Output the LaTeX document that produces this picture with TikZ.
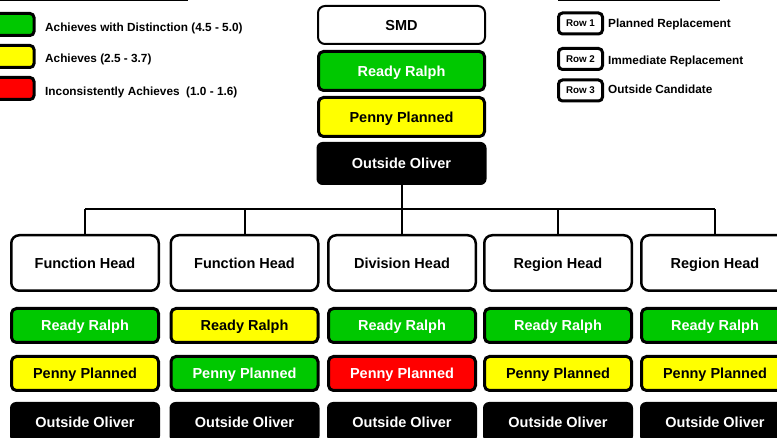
\documentclass[tikz,border=0pt]{standalone}
\usepackage{fontspec}
\setmainfont{Liberation Sans}
\definecolor{cgreen}{RGB}{0,200,0}
\definecolor{cyellow}{RGB}{255,255,0}
\definecolor{cred}{RGB}{255,0,0}
\begin{document}
\begin{tikzpicture}[x=1pt,y=-1pt,
  big/.style={font=\fontsize{14.5}{17}\selectfont\bfseries,text height=10.4pt,text depth=0pt},
  headbox/.style={big,draw=black,line width=2.5pt,rounded corners=8pt,fill=white,
    minimum width=147.5pt,minimum height=55.5pt,inner sep=0pt},
  cbox/.style={big,draw=black,line width=3pt,rounded corners=5pt,
    minimum width=147pt,minimum height=34pt,inner sep=0pt},
  gbox/.style={cbox,fill=cgreen,text=white},
  ybox/.style={cbox,fill=cyellow,text=black},
  rbox/.style={cbox,fill=cred,text=white},
  obox/.style={big,fill=black,text=white,rounded corners=6pt,
    minimum width=150pt,minimum height=40pt,inner sep=0pt},
  legbox/.style={draw=black,line width=3pt,rounded corners=4pt,
    minimum width=40pt,minimum height=22pt,inner sep=0pt},
  legtext/.style={font=\fontsize{11.8}{14}\selectfont\bfseries,anchor=west,inner sep=0pt,
    text height=8.45pt,text depth=0pt},
  rowbox/.style={draw=black,line width=3pt,rounded corners=4pt,fill=white,
    font=\fontsize{9.8}{11}\selectfont\bfseries,text height=7pt,text depth=0pt,
    minimum width=44pt,minimum height=21pt,inner sep=0pt},
  conn/.style={line width=2pt,draw=black}
]
\useasboundingbox (0,0) rectangle (777,438);

% legend left
\draw[conn] (0,0.5) coordinate (la) -- (188,0.5) coordinate (lb);
\node[legbox,fill=cgreen] (lg) at (14,24.5) {};
\node[legbox,fill=cyellow] (ly) at (14,56.5) {};
\node[legbox,fill=cred] (lr) at (14,88.5) {};
\node[legtext] (lgt) at (45,27.2) {Achieves with Distinction (4.5 - 5.0)};
\node[legtext] (lyt) at (45,58.3) {Achieves (2.5 - 3.7)};
\node[legtext] (lrt) at (45,91.3) {Inconsistently Achieves\ \ (1.0 - 1.6)};

% legend right
\draw[conn] (558,0.5) coordinate (ra) -- (720,0.5) coordinate (rb);
\node[rowbox] (r1) at (580.5,23.5) {Row 1};
\node[rowbox] (r2) at (580.5,59) {Row 2};
\node[rowbox] (r3) at (580.5,90.5) {Row 3};
\node[legtext] (r1t) at (608,23.3) {Planned Replacement};
\node[legtext] (r2t) at (608,60.5) {Immediate Replacement};
\node[legtext] (r3t) at (608,89.7) {Outside Candidate};

% top column
\node[headbox,line width=2pt,rounded corners=7pt,minimum width=167pt,minimum height=38pt] (smd) at (401.5,25) {SMD};
\node[gbox,minimum width=166pt,minimum height=39pt] (g0) at (401.5,71) {Ready Ralph};
\node[ybox,minimum width=166pt,minimum height=39pt] (y0) at (401.5,117) {Penny Planned};
\node[obox,minimum width=170pt,minimum height=43pt] (o0) at (401.5,163.5) {Outside Oliver};

% bus
\coordinate (bus) at (402,209);

% columns
\node[headbox] (h1) at (85,263) {Function Head};
\node[headbox] (h2) at (244.5,263) {Function Head};
\node[headbox] (h3) at (402,263) {Division Head};
\node[headbox] (h4) at (558,263) {Region Head};
\node[headbox] (h5) at (715,263) {Region Head};

\node[gbox] (g1) at (85,325.5) {Ready Ralph};
\node[ybox] (g2) at (244.5,325.5) {Ready Ralph};
\node[gbox] (g3) at (402,325.5) {Ready Ralph};
\node[gbox] (g4) at (558,325.5) {Ready Ralph};
\node[gbox] (g5) at (715,325.5) {Ready Ralph};

\node[ybox] (p1) at (85,373.5) {Penny Planned};
\node[gbox] (p2) at (244.5,373.5) {Penny Planned};
\node[rbox] (p3) at (402,373.5) {Penny Planned};
\node[ybox] (p4) at (558,373.5) {Penny Planned};
\node[ybox] (p5) at (715,373.5) {Penny Planned};

\node[obox] (o1) at (85,422) {Outside Oliver};
\node[obox] (o2) at (244.5,422) {Outside Oliver};
\node[obox] (o3) at (402,422) {Outside Oliver};
\node[obox] (o4) at (558,422) {Outside Oliver};
\node[obox] (o5) at (715,422) {Outside Oliver};

% connectors
\draw[conn] (o0.south) -- (o0.south |- bus);
\draw[conn] (h1.north |- bus) -- (h5.north |- bus);
\foreach \i in {1,...,5} {\draw[conn] (h\i.north) -- (h\i.north |- bus);}
\end{tikzpicture}
\end{document}
